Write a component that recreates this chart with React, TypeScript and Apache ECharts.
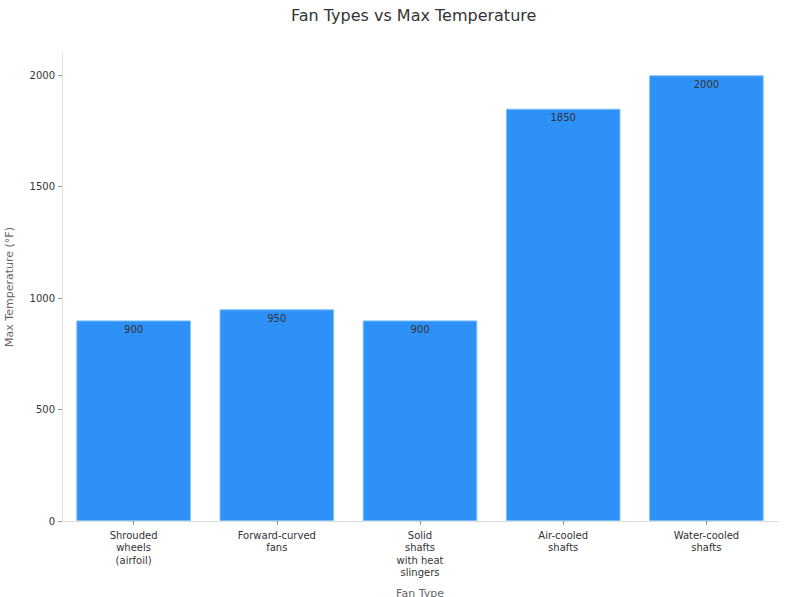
import React, { useEffect, useRef } from "react";
import * as echarts from "echarts";

const categories = [
  "Shrouded\nwheels\n(airfoil)",
  "Forward-curved\nfans",
  "Solid\nshafts\nwith heat\nslingers",
  "Air-cooled\nshafts",
  "Water-cooled\nshafts",
];
const maxTemps = [900, 950, 900, 1850, 2000];
const yTicks = [0, 500, 1000, 1500, 2000];

const FONT = "DejaVu Sans";

export default function App() {
  const ref = useRef<HTMLDivElement>(null);
  useEffect(() => {
    if (!ref.current) return;
    const chart = echarts.init(ref.current, null, { renderer: "svg" });
    chart.setOption({
      animation: false,
      textStyle: { fontFamily: FONT },
      title: {
        text: "Fan Types vs Max Temperature",
        left: 286,
        top: 2,
        textStyle: { fontFamily: FONT, fontSize: 16, fontWeight: "normal", color: "#333" },
      },
      grid: { left: 62, right: 22, top: 53, bottom: 76, containLabel: false, outerBoundsMode: "none" },
      xAxis: {
        type: "category",
        data: categories,
        name: "Fan Type",
        nameLocation: "middle",
        nameGap: 67,
        nameTextStyle: { fontFamily: FONT, fontSize: 11, color: "#666" },
        axisLine: { show: true, lineStyle: { color: "#ddd", width: 1 } },
        axisTick: { show: true, alignWithLabel: true, length: 4, lineStyle: { color: "#999" } },
        axisLabel: { fontFamily: FONT, fontSize: 10, color: "#333", lineHeight: 12.5, margin: 8, interval: 0 },
      },
      yAxis: {
        type: "value",
        min: 0,
        max: 2100,
        name: "Max Temperature (°F)",
        nameLocation: "middle",
        nameGap: 47,
        nameTextStyle: { fontFamily: FONT, fontSize: 11, color: "#666" },
        splitLine: { show: false },
        axisLine: { show: true, lineStyle: { color: "#ddd", width: 1 } },
        axisTick: { show: true, length: 4, customValues: yTicks, lineStyle: { color: "#999" } },
        axisLabel: {
          fontFamily: FONT,
          fontSize: 10,
          color: "#333",
          margin: 7,
          customValues: yTicks,
          formatter: (v: number) => String(v),
        },
      },
      series: [
        {
          type: "bar",
          data: maxTemps,
          barCategoryGap: "20%",
          itemStyle: { color: "#2d91f7", borderColor: "#7cc0fb", borderWidth: 1 },
          label: {
            show: true,
            position: "insideTop",
            distance: 4,
            fontFamily: FONT,
            fontSize: 10,
            color: "#333",
          },
        },
      ],
    });
    return () => chart.dispose();
  }, []);
  return (
    <div
      ref={ref}
      style={{ position: "fixed", left: 0, top: 0, width: 800, height: 597, background: "#fff" }}
    />
  );
}
